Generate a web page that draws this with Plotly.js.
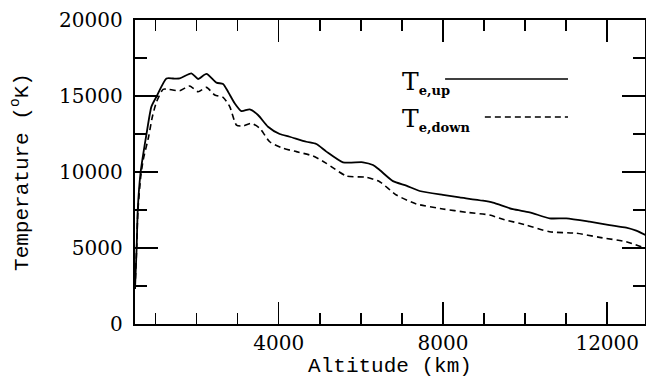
<!DOCTYPE html>
<html>
<head>
<meta charset="utf-8">
<script src="https://cdn.plot.ly/plotly-3.0.1.min.js"></script>
<style>html,body{margin:0;padding:0;background:#fff;}#chart{width:646px;height:380px;}#dbg{position:absolute;left:2px;top:366px;font:11px monospace;color:#fff;width:40px;white-space:pre-wrap;}</style>
</head>
<body>
<div id="chart"></div>
<div id="dbg"></div>
<script>
// Altitude (km) and electron temperature (K)
const altUp = [500, 540, 567, 633, 690, 780, 900, 1022, 1266, 1427, 1590, 1874, 2036, 2240, 2483, 2645, 2766, 2928, 3091, 3294, 3496, 3739, 4024, 4267, 4673, 4917, 5161, 5565, 6052, 6295, 6458, 6782, 7108, 7432, 7999, 8405, 8973, 9217, 9703, 10110, 10597, 11003, 11570, 12057, 12463, 12707, 12933];
const tUp = [2300, 5000, 7500, 9900, 11000, 12500, 14300, 14950, 16150, 16150, 16160, 16490, 16120, 16450, 15880, 15790, 15280, 14520, 14010, 14120, 13750, 12980, 12500, 12320, 11990, 11840, 11340, 10640, 10640, 10460, 10130, 9400, 9100, 8750, 8490, 8330, 8110, 7980, 7550, 7350, 6950, 6950, 6730, 6510, 6340, 6140, 5850];
const altDown = [500, 540, 570, 640, 700, 830, 920, 1022, 1184, 1306, 1590, 1833, 2036, 2240, 2442, 2645, 2807, 2970, 3131, 3335, 3537, 3780, 4105, 4430, 4835, 5161, 5648, 6134, 6458, 6864, 7351, 7999, 8568, 9136, 9460, 10029, 10597, 11246, 11814, 12463, 12933];
const tDown = [2300, 5000, 7400, 9700, 10800, 12300, 13600, 14600, 15440, 15440, 15350, 15660, 15280, 15570, 15070, 14910, 14300, 13090, 13030, 13200, 12880, 11990, 11560, 11340, 11050, 10570, 9740, 9650, 9360, 8490, 7900, 7570, 7350, 7170, 6890, 6510, 6070, 5970, 5700, 5410, 4980];
const seriesNames = ["T<sub><span style=\"font-size:13px\"><b>e,up</b></span></sub>", "T<sub><span style=\"font-size:13px\"><b>e,down</b></span></sub>"];
const xTickStep = 4000, xMinorStep = 1000;
const yTickStep = 5000, yMinorStep = 2500;

const traces = [
  {x: altUp, y: tUp, mode: 'lines', line: {color: '#000', width: 1.8, shape: 'spline', smoothing: 0.6}, name: 'Te,up', showlegend: false},
  {x: altDown, y: tDown, mode: 'lines', line: {color: '#000', width: 1.6, dash: '6px,4px', shape: 'spline', smoothing: 0.6}, name: 'Te,down', showlegend: false}
];

const tickFont = {family: 'DejaVu Serif', size: 20, color: '#000'};
const titleFont = {family: 'Liberation Mono', size: 21, color: '#000'};

const layout = {
  width: 646, height: 380,
  margin: {l: 135, r: 1, t: 20, b: 56},
  paper_bgcolor: '#fff', plot_bgcolor: '#fff',
  showlegend: false,
  xaxis: {
    range: [500, 12920], showgrid: false, zeroline: false, automargin: false,
    showline: true, linecolor: '#000', linewidth: 2, mirror: 'allticks',
    ticks: 'inside', ticklen: 22, tickwidth: 1.5, tickcolor: '#000',
    tickmode: 'linear', tick0: 0, dtick: xTickStep, tickformat: 'd',
    tickfont: tickFont,
    minor: {dtick: xMinorStep, tick0: 0, ticks: 'inside', ticklen: 11, tickwidth: 1.5, tickcolor: '#000', showgrid: false},
    title: {text: 'Altitude (km)', font: titleFont, standoff: 0}
  },
  yaxis: {
    range: [0, 20000], showgrid: false, zeroline: false, automargin: false,
    showline: true, linecolor: '#000', linewidth: 2, mirror: 'allticks',
    ticks: 'inside', ticklen: 23, tickwidth: 1.5, tickcolor: '#000',
    tickmode: 'linear', tick0: 0, dtick: yTickStep, tickformat: 'd', ticksuffix: '\u00a0',
    tickfont: tickFont,
    minor: {dtick: yMinorStep, tick0: 0, ticks: 'inside', ticklen: 12, tickwidth: 1.5, tickcolor: '#000', showgrid: false},
    title: {text: 'Temperature (<sup>o</sup>K)', font: titleFont, standoff: 25}
  },
  annotations: [
    {xref: 'paper', yref: 'paper', x: 0.52, y: 0.793, xanchor: 'left', yanchor: 'middle', text: seriesNames[0], showarrow: false, font: {family: 'DejaVu Serif', size: 25, color: '#000'}},
    {xref: 'paper', yref: 'paper', x: 0.52, y: 0.674, xanchor: 'left', yanchor: 'middle', text: seriesNames[1], showarrow: false, font: {family: 'DejaVu Serif', size: 25, color: '#000'}}
  ],
  shapes: [
    {type: 'line', xref: 'paper', yref: 'paper', x0: 0.608, x1: 0.849, y0: 0.806, y1: 0.806, line: {color: '#000', width: 1.5}},
    {type: 'line', xref: 'paper', yref: 'paper', x0: 0.686, x1: 0.849, y0: 0.681, y1: 0.681, line: {color: '#000', width: 1.5, dash: '6px,4px'}}
  ]
};

const config = {displayModeBar: false, staticPlot: true};
Plotly.newPlot('chart', traces, layout, config).then(function(gd){
  document.getElementById('dbg').textContent = '.';
  return new Promise(function(r){ setTimeout(r, 150); }).then(function(){
    return Plotly.react(gd, traces, layout, config);
  }).then(function(){
    document.getElementById('dbg').textContent = '. ';
  });
});
</script>
</body>
</html>
